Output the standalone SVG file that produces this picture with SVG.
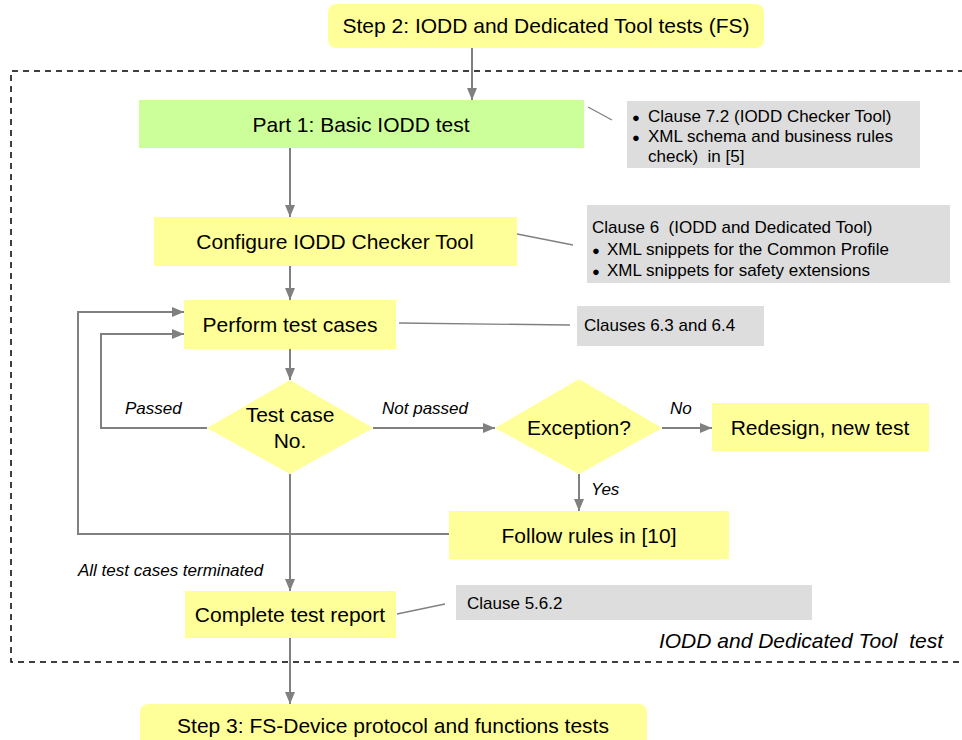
<svg xmlns="http://www.w3.org/2000/svg" width="962" height="740" viewBox="0 0 962 740">
<style>
text{font-family:"Liberation Sans",Arial,sans-serif;fill:#000;white-space:pre}
.n{font-size:21px;text-anchor:middle}
.s{font-size:17px}
.i{font-size:17px;font-style:italic}
.y{fill:#FFFF99}
.g{fill:#DDDDDD}
.c{fill:none;stroke:#808080;stroke-width:2}
.t{fill:none;stroke:#808080;stroke-width:1.3}
.b{font-size:13px}
</style>
<defs>
<marker id="ah" viewBox="0 0 12 10" refX="12" refY="5" markerWidth="12" markerHeight="10" orient="auto" markerUnits="userSpaceOnUse">
<path d="M0,0 L12,5 L0,10 z" fill="#808080"/>
</marker>
</defs>
<path d="M975,71 H11 V662 H975" fill="none" stroke="#000" stroke-width="1.5" stroke-dasharray="6,5"/>
<g id="connectors">
<path class="c" d="M472,48 V100" marker-end="url(#ah)"/>
<path class="c" d="M290,148 V217" marker-end="url(#ah)"/>
<path class="c" d="M290,266 V300" marker-end="url(#ah)"/>
<path class="c" d="M290,349 V380" marker-end="url(#ah)"/>
<path class="c" d="M373,428 H495" marker-end="url(#ah)"/>
<path class="c" d="M662,428 H712" marker-end="url(#ah)"/>
<path class="c" d="M579,474 V511" marker-end="url(#ah)"/>
<path class="c" d="M207,428 H101 V334 H184" marker-end="url(#ah)"/>
<path class="c" d="M449,534 H78 V312 H184" marker-end="url(#ah)"/>
<path class="c" d="M290,474 V591" marker-end="url(#ah)"/>
<path class="c" d="M290,638 V704" marker-end="url(#ah)"/>
<path class="t" d="M588,107 L612,120"/>
<path class="t" d="M512,233 L573,245"/>
<path class="t" d="M399,323 L570,325"/>
<path class="t" d="M397,614 L445,604"/>
<text class="i" x="125" y="414">Passed</text>
<text class="i" x="382" y="414">Not passed</text>
<text class="i" x="670" y="414">No</text>
<text class="i" x="591" y="495">Yes</text>
<text class="i" x="78" y="576">All test cases terminated</text>
</g>
<g id="step2"><rect class="y" x="328" y="4" width="436" height="44" rx="8"/><text class="n" x="546" y="33">Step 2: IODD and Dedicated Tool tests (FS)</text></g>
<g id="part1"><rect fill="#CCFF99" x="139" y="100" width="445" height="48"/><text class="n" x="361" y="132">Part 1: Basic IODD test</text></g>
<g id="note1"><rect class="g" x="627" y="101" width="293" height="67"/>
<text class="s" x="632" y="122"><tspan class="b">●</tspan></text><text class="s" x="648" y="122">Clause 7.2 (IODD Checker Tool)</text>
<text class="s" x="632" y="142"><tspan class="b">●</tspan></text><text class="s" x="648" y="142">XML schema and business rules</text>
<text class="s" x="648" y="162">check)  in [5]</text></g>
<g id="configure"><rect class="y" x="154" y="217" width="363" height="49"/><text class="n" x="335" y="249">Configure IODD Checker Tool</text></g>
<g id="note2"><rect class="g" x="587" y="205" width="363" height="78"/>
<text class="s" x="592" y="233">Clause 6  (IODD and Dedicated Tool)</text>
<text class="s" x="592" y="255"><tspan class="b">●</tspan></text><text class="s" x="607" y="255">XML snippets for the Common Profile</text>
<text class="s" x="592" y="276"><tspan class="b">●</tspan></text><text class="s" x="607" y="276">XML snippets for safety extensions</text></g>
<g id="perform"><rect class="y" x="184" y="300" width="212" height="49"/><text class="n" x="290" y="332">Perform test cases</text></g>
<g id="note3"><rect class="g" x="577" y="306" width="187" height="40"/><text class="s" x="584" y="331">Clauses 6.3 and 6.4</text></g>
<g id="testcase"><polygon class="y" points="290,380 373,428 290,474 207,428"/><text class="n" x="290" y="422">Test case</text><text class="n" x="290" y="448">No.</text></g>
<g id="exception"><polygon class="y" points="579,379 662,428 579,474 495,428"/><text class="n" x="579" y="435">Exception?</text></g>
<g id="redesign"><rect class="y" x="712" y="403" width="217" height="48"/><text class="n" x="820" y="435">Redesign, new test</text></g>
<g id="follow"><rect class="y" x="449" y="511" width="280" height="48"/><text class="n" x="589" y="543">Follow rules in [10]</text></g>
<g id="complete"><rect class="y" x="185" y="591" width="211" height="47"/><text class="n" x="290" y="622">Complete test report</text></g>
<g id="note4"><rect class="g" x="456" y="585" width="356" height="35"/><text class="s" x="467" y="609">Clause 5.6.2</text></g>
<g id="boxlabel"><text x="943" y="648" style="font-size:21px;font-style:italic;text-anchor:end">IODD and Dedicated Tool  test</text></g>
<g id="step3"><rect class="y" x="140" y="704" width="507" height="50" rx="8"/><text class="n" x="393" y="733">Step 3: FS-Device protocol and functions tests</text></g>
</svg>
